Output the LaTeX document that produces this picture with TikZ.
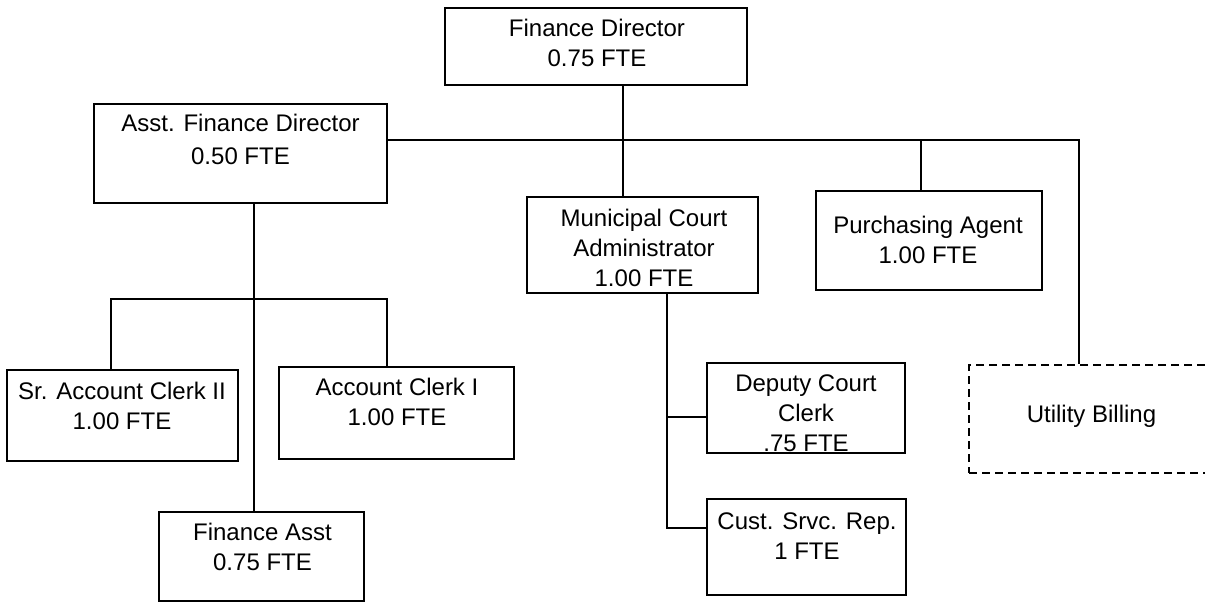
\documentclass[tikz,border=0pt]{standalone}
\usepackage{fontspec}
\setmainfont{Liberation Sans}
\begin{document}
\begin{tikzpicture}[x=1pt,y=-1pt,
  box/.style={draw, rectangle, inner sep=0pt, line width=1.6pt},
  dashbox/.style={box, dash pattern=on 8pt off 5pt},
  lbl/.style={align=center, inner sep=0pt, font=\fontsize{24}{30}\selectfont},
  link/.style={line width=1.6pt}]
\useasboundingbox (0,0) rectangle (1205,602);
\clip (0,0) rectangle (1205,602);

% boxes
\node[box, minimum width=302pt, minimum height=77pt] (fd) at (596,46.5) {};
\node[box, minimum width=293pt, minimum height=99pt] (afd) at (240.5,153.5) {};
\node[box, minimum width=231pt, minimum height=96pt] (mca) at (642.5,245) {};
\node[box, minimum width=226pt, minimum height=99pt] (pa) at (929,240.5) {};
\node[dashbox, minimum width=246pt, minimum height=108pt] (ub) at (1092,419) {};
\node[box, minimum width=231pt, minimum height=91pt] (sac) at (122.5,415.5) {};
\node[box, minimum width=235pt, minimum height=92pt] (ac) at (396.5,413) {};
\node[box, minimum width=198pt, minimum height=90pt] (dcc) at (806,408) {};
\node[box, minimum width=199pt, minimum height=96pt] (csr) at (806.5,547) {};
\node[box, minimum width=205pt, minimum height=89pt] (fa) at (261.5,556.5) {};

% labels
\node[lbl] (fdt) at (597,42.5) {Finance Director\\0.75 FTE};
\node[lbl] (afdt) at (240.5,139.5) {Asst. Finance Director\\[3pt]0.50 FTE};
\node[lbl] (mcat) at (644,248) {Municipal Court\\Administrator\\1.00 FTE};
\node[lbl] (pat) at (928,240) {Purchasing Agent\\1.00 FTE};
\node[lbl] (ubt) at (1091.5,416) {Utility Billing};
\node[lbl] (sact) at (122,406) {Sr. Account Clerk II\\1.00 FTE};
\node[lbl] (act) at (397,402) {Account Clerk I\\1.00 FTE};
\node[lbl] (dcct) at (806,413) {Deputy Court\\Clerk\\.75 FTE};
\node[lbl] (csrt) at (807,536) {Cust. Srvc. Rep.\\1 FTE};
\node[lbl] (fat) at (262.5,547) {Finance Asst\\0.75 FTE};

% junction points
\coordinate (top) at (623,140);
\coordinate (pj) at (921,140);
\coordinate (uj) at (1079,140);
\coordinate (aj) at (254,299);
\coordinate (sj) at (111,299);
\coordinate (cj) at (387,299);
\coordinate (mj) at (667,417);
\coordinate (mk) at (667,528);

% connectors
\draw[link] (fd.south -| top) -- (mca.north -| top);
\draw[link] (afd.east |- top) -- (uj) -- (ub.north -| uj);
\draw[link] (pj) -- (pa.north -| pj);
\draw[link] (afd.south -| aj) -- (fa.north -| aj);
\draw[link] (sac.north -| sj) -- (sj) -- (cj) -- (ac.north -| cj);
\draw[link] (mca.south -| mj) -- (mk) -- (csr.west |- mk);
\draw[link] (mj) -- (dcc.west |- mj);
\end{tikzpicture}
\end{document}
